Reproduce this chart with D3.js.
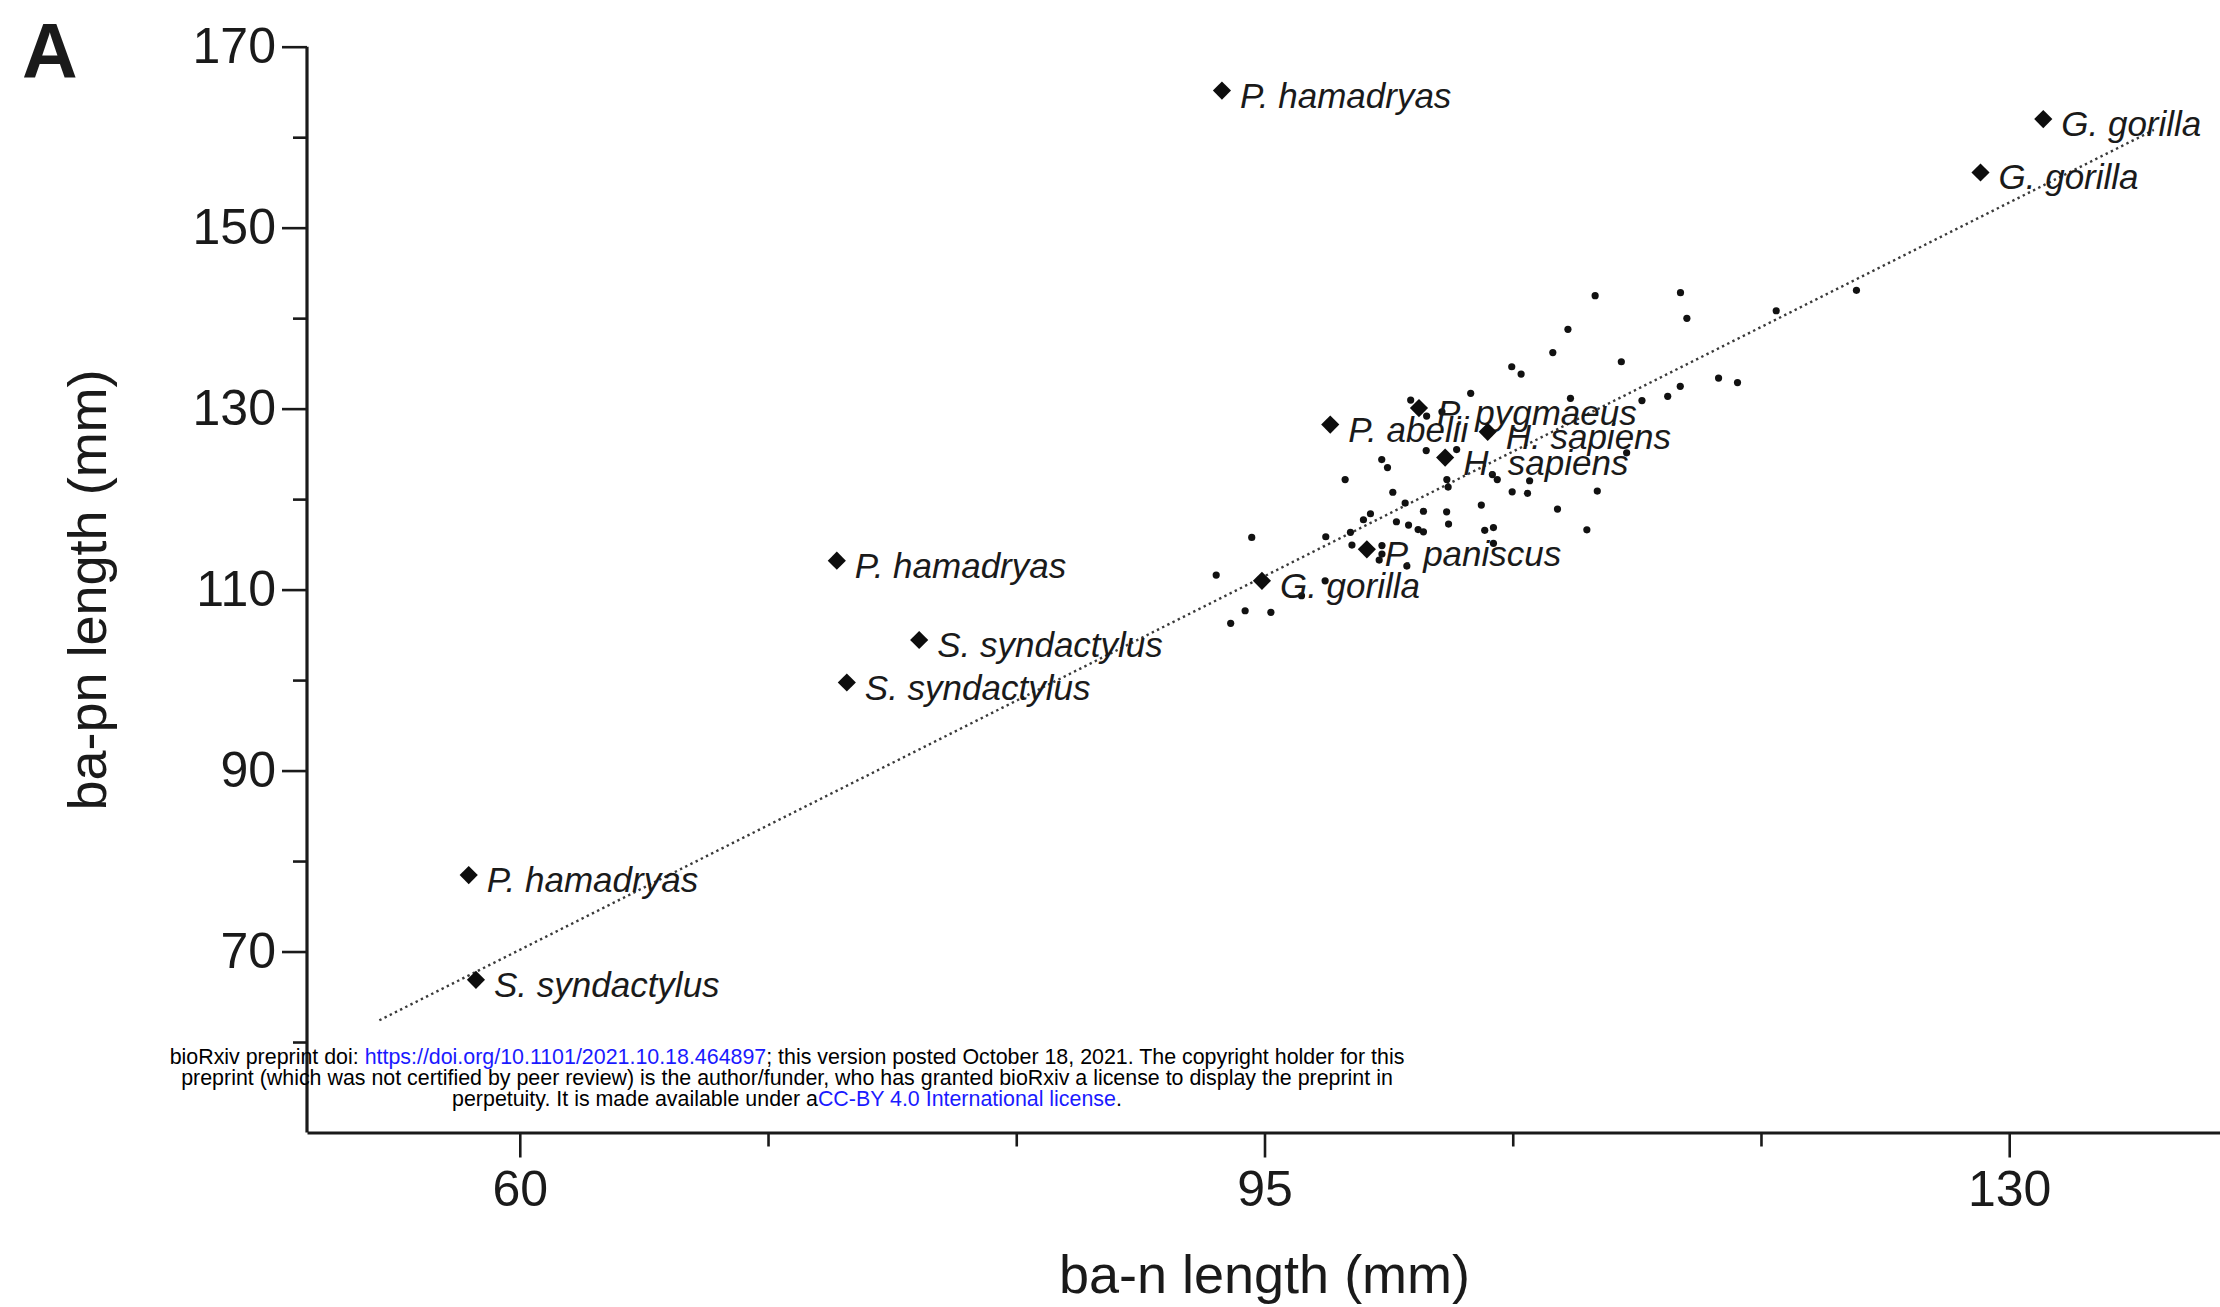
<!DOCTYPE html>
<html>
<head>
<meta charset="utf-8">
<script src="https://cdn.jsdelivr.net/npm/d3@7"></script>
<style>
  html, body { margin: 0; padding: 0; background: #ffffff; }
  svg { display: block; }
</style>
</head>
<body>
<svg id="chart" width="2220" height="1307"></svg>
<script>
// ---- Labelled specimens (ba-n length, ba-pn length in mm) ----
const specimenNames = [
  "P. hamadryas", "G. gorilla", "G. gorilla", "P. pygmaeus", "P. abelii",
  "H. sapiens", "H. sapiens", "P. paniscus", "G. gorilla", "P. hamadryas",
  "S. syndactylus", "S. syndactylus", "P. hamadryas", "S. syndactylus"
];
const specimenBaN  = [93.0, 131.6, 128.65, 102.26, 98.09, 105.49, 103.49, 99.81, 94.88, 74.9, 78.77, 75.37, 57.6, 57.94];
const specimenBaPn = [165.15, 162.0, 156.1, 130.06, 128.24, 127.44, 124.59, 114.45, 110.97, 113.2, 104.43, 99.73, 78.45, 66.87];

// ---- Unlabelled comparative sample ----
const sampleBaN = [
  110.54, 114.55, 114.85, 109.26, 108.55, 111.77, 106.62, 107.06, 119.05, 122.82,
  116.34, 117.23, 114.54, 113.95, 112.74, 104.69, 109.38, 101.87, 102.62, 103.34,
  112.02, 102.60, 104.03, 100.51, 100.78, 98.79, 103.57, 103.63, 105.71, 105.94,
  107.46, 106.64, 107.36, 110.64, 101.03, 101.61, 105.19, 108.77, 102.47, 103.56,
  99.98, 99.65, 101.20, 101.77, 102.22, 102.47, 103.65, 105.35, 105.76, 110.15,
  94.40, 97.88, 99.04, 105.76, 99.11, 100.52, 100.52, 100.39, 101.69, 92.73,
  97.85, 96.74, 94.09, 95.30, 93.41
];
const sampleBaPn = [
  142.48, 142.81, 139.98, 138.76, 136.20, 135.18, 134.63, 133.82, 140.82, 143.07,
  133.38, 132.88, 132.46, 131.36, 130.89, 131.69, 131.14, 130.95, 129.18, 129.65,
  125.12, 125.37, 125.48, 124.37, 123.49, 122.16, 122.16, 121.33, 122.71, 122.16,
  122.03, 120.81, 120.64, 120.89, 120.76, 119.56, 119.34, 118.90, 118.66, 118.60,
  118.38, 117.72, 117.50, 117.13, 116.63, 116.39, 117.24, 116.55, 116.86, 116.61,
  115.77, 115.84, 116.33, 115.11, 114.92, 114.87, 113.93, 113.26, 112.60, 111.60,
  110.97, 109.32, 107.66, 107.49, 106.27
];

// ---- Fitted line end points ----
const trendBaN  = [53.4, 136.8];
const trendBaPn = [62.4, 160.8];

// ---- Axis ticks ----
const xMajorTicks = [60, 95, 130];
const xMinorTicks = [71.667, 83.333, 106.667, 118.333];
const yMajorTicks = [70, 90, 110, 130, 150, 170];
const yMinorTicks = [60, 80, 100, 120, 140, 160];

const FONT = "'Liberation Sans', Arial, Helvetica, sans-serif";
const INK = "#1a1a1a";

const svg = d3.select("#chart");

const x = d3.scaleLinear().domain([50, 140]).range([307, 2222]);
const y = d3.scaleLinear().domain([50, 170]).range([1132.5, 46.7]);
const xAxisY = y(50);
const yAxisX = x(50);

// ---- Axes ----
function styleAxis(g, w) {
  g.selectAll("path.domain").attr("stroke", INK).attr("stroke-width", 3.2);
  g.selectAll(".tick line").attr("stroke", INK).attr("stroke-width", w);
  g.selectAll(".tick text")
    .attr("fill", INK)
    .style("font-family", FONT)
    .style("font-size", "50px");
}

// x axis
svg.append("g")
  .attr("transform", `translate(0,${xAxisY})`)
  .call(d3.axisBottom(x).tickValues(xMinorTicks).tickFormat("").tickSize(14).tickSizeOuter(0))
  .call(g => g.select("path.domain").remove())
  .call(g => styleAxis(g, 2.6));

svg.append("g")
  .attr("transform", `translate(0,${xAxisY})`)
  .call(d3.axisBottom(x).tickValues(xMajorTicks).tickFormat(d3.format("d")).tickSize(25).tickSizeOuter(0).tickPadding(13))
  .call(g => styleAxis(g, 2.6));

// y axis
svg.append("g")
  .attr("transform", `translate(${yAxisX},0)`)
  .call(d3.axisLeft(y).tickValues(yMinorTicks).tickFormat("").tickSize(14).tickSizeOuter(0))
  .call(g => g.select("path.domain").remove())
  .call(g => styleAxis(g, 2.6));

svg.append("g")
  .attr("transform", `translate(${yAxisX},0)`)
  .call(d3.axisLeft(y).tickValues(yMajorTicks).tickFormat(d3.format("d")).tickSize(25).tickSizeOuter(0).tickPadding(6))
  .call(g => g.select("path.domain").attr("d", `M0,${y(170)}V${xAxisY}`))
  .call(g => styleAxis(g, 2.6));

// ---- Axis titles ----
svg.append("text")
  .attr("x", x(95))
  .attr("y", 1293)
  .attr("text-anchor", "middle")
  .attr("fill", INK)
  .style("font-family", FONT)
  .style("font-size", "54px")
  .text("ba-n length (mm)");

svg.append("text")
  .attr("transform", "translate(106,590) rotate(-90)")
  .attr("text-anchor", "middle")
  .attr("fill", INK)
  .style("font-family", FONT)
  .style("font-size", "54px")
  .text("ba-pn length (mm)");

// Panel letter
svg.append("text")
  .attr("x", 22)
  .attr("y", 78)
  .attr("fill", INK)
  .style("font-family", FONT)
  .style("font-size", "77px")
  .style("font-weight", "bold")
  .text("A");

// ---- Fitted line ----
const trendPts = trendBaN.map((v, i) => [v, trendBaPn[i]]);
svg.append("path")
  .datum(trendPts)
  .attr("d", d3.line().x(d => x(d[0])).y(d => y(d[1])))
  .attr("fill", "none")
  .attr("stroke", "#3a3a3a")
  .attr("stroke-width", 2.4)
  .attr("stroke-dasharray", "2.4,3.4");

// ---- Unlabelled sample dots ----
const samples = sampleBaN.map((v, i) => ({ ban: v, bapn: sampleBaPn[i] }));
svg.append("g")
  .selectAll("circle")
  .data(samples)
  .join("circle")
  .attr("cx", d => x(d.ban))
  .attr("cy", d => y(d.bapn))
  .attr("r", 3.6)
  .attr("fill", "#111");

// ---- Labelled specimens ----
const specimens = specimenNames.map((n, i) => ({ name: n, ban: specimenBaN[i], bapn: specimenBaPn[i] }));
const diamond = d3.symbol(d3.symbolSquare).size(165);

const spec = svg.append("g")
  .selectAll("g")
  .data(specimens)
  .join("g")
  .attr("transform", d => `translate(${x(d.ban)},${y(d.bapn)})`);

spec.append("path")
  .attr("d", diamond)
  .attr("transform", "rotate(45)")
  .attr("fill", "#0d0d0d");

spec.append("text")
  .attr("x", 18)
  .attr("y", 17)
  .attr("fill", INK)
  .style("font-family", FONT)
  .style("font-size", "35px")
  .style("font-style", "italic")
  .text(d => d.name);

// ---- Preprint notice ----
const notice = svg.append("text")
  .attr("text-anchor", "middle")
  .attr("fill", "#000")
  .style("font-family", FONT)
  .style("font-size", "21.4px");

const noticeLines = [
  [["bioRxiv preprint doi: ", "#000"], ["https://doi.org/10.1101/2021.10.18.464897", "#1a1aff"], ["; this version posted October 18, 2021. The copyright holder for this", "#000"]],
  [["preprint (which was not certified by peer review) is the author/funder, who has granted bioRxiv a license to display the preprint in", "#000"]],
  [["perpetuity. It is made available under a", "#000"], ["CC-BY 4.0 International license", "#1a1aff"], [".", "#000"]]
];
const noticeBaselines = [1064, 1085, 1106];
noticeLines.forEach((parts, li) => {
  parts.forEach((p, pi) => {
    const t = notice.append("tspan").attr("fill", p[1]).text(p[0]);
    if (pi === 0) t.attr("x", 787).attr("y", noticeBaselines[li]);
  });
});
</script>
</body>
</html>
